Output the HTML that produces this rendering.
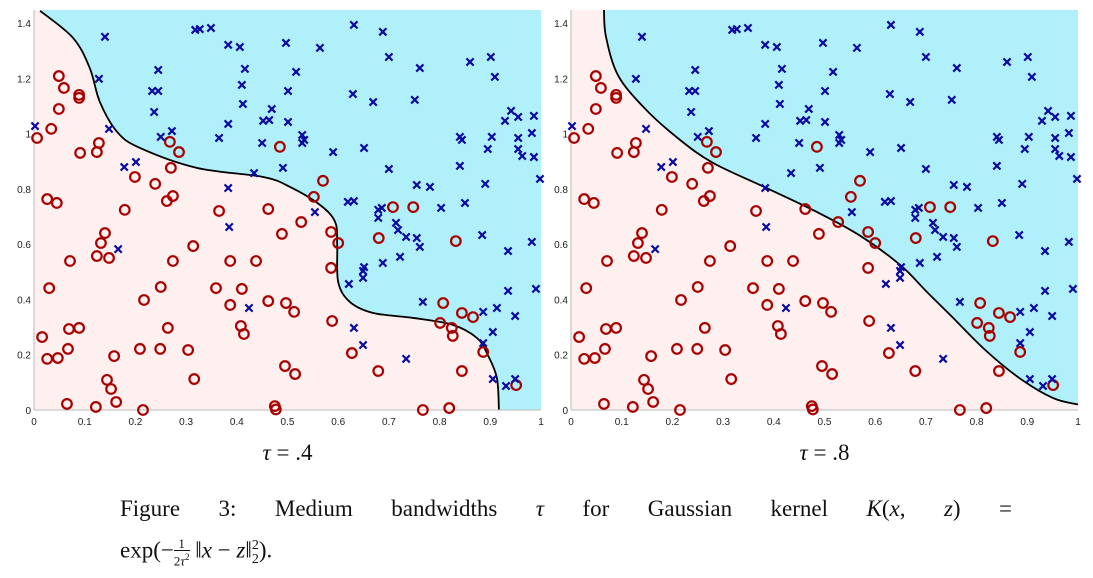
<!DOCTYPE html>
<html><head><meta charset="utf-8"><style>
body{margin:0;background:#fff;width:1093px;height:568px;overflow:hidden}
svg{display:block}
.tk{font-family:"Liberation Sans",sans-serif;font-size:10px;fill:#222}
.cap{font-family:"Liberation Serif",serif;font-size:23px;fill:#111}
</style></head><body>
<svg id="chart" width="1093" height="568"></svg>
<script>
const crossX=[.140,.318,.327,.349,.383,.406,.497,.245,.416,.128,.233,.245,.410,.501,.412,.237,.469,.452,.464,.501,.002,.148,.272,.250,.383,.365,.450,.491,.434,.178,.201,.383,.631,.688,.564,.700,.761,.860,.901,.909,.517,.629,.669,.751,.941,.929,.955,.986,.529,.533,.529,.590,.651,.840,.844,.903,.895,.955,.982,.955,.963,.986,.700,.840,.998,.755,.781,.890,.850,.803,.619,.631,.679,.686,.554,.385,.166,.424,.679,.714,.718,.734,.755,.761,.884,.935,.982,.722,.688,.651,.649,.649,.621,.935,.990,.767,.886,.913,.949,.631,.905,.649,.886,.734,.905,.949,.931];
const crossY=[1.350,1.375,1.378,1.382,1.321,1.313,1.328,1.230,1.234,1.198,1.154,1.154,1.176,1.154,1.107,1.078,1.089,1.046,1.049,1.042,1.027,1.017,1.009,.988,1.035,.984,.966,.876,.857,.879,.897,.803,1.393,1.368,1.310,1.277,1.237,1.259,1.277,1.205,1.223,1.143,1.114,1.122,1.082,1.046,1.060,1.064,.995,.977,.966,.933,.948,.988,.977,.988,.944,.984,1.002,.944,.919,.915,.872,.883,.836,.814,.807,.818,.749,.731,.753,.756,.724,.731,.716,.662,.582,.369,.695,.677,.651,.626,.622,.590,.633,.575,.608,.554,.532,.517,.503,.478,.456,.431,.438,.391,.355,.369,.340,.297,.282,.235,.242,.185,.112,.112,.087];
const circX=[.049,.059,.089,.089,.049,.034,.006,.128,.124,.091,.268,.286,.485,.270,.199,.239,.274,.262,.026,.045,.179,.365,.462,.570,.552,.708,.748,.140,.132,.124,.148,.071,.314,.274,.387,.438,.489,.030,.250,.217,.359,.410,.387,.462,.497,.016,.069,.089,.264,.408,.414,.026,.047,.067,.158,.209,.249,.304,.495,.144,.152,.316,.065,.122,.162,.215,.475,.477,.527,.586,.600,.680,.832,.586,.513,.588,.807,.844,.866,.801,.824,.826,.886,.627,.515,.679,.844,.951,.767,.819];
const circY=[1.208,1.165,1.140,1.129,1.089,1.017,.984,.966,.933,.930,.970,.933,.952,.876,.843,.818,.774,.756,.763,.749,.724,.720,.727,.829,.771,.734,.734,.640,.604,.557,.550,.539,.593,.539,.539,.539,.637,.441,.445,.398,.441,.438,.380,.394,.387,.264,.293,.297,.297,.304,.275,.185,.188,.221,.195,.221,.221,.217,.159,.109,.076,.112,.022,.011,.029,.000,.014,.002,.680,.644,.604,.622,.611,.514,.355,.322,.387,.351,.336,.315,.297,.268,.210,.206,.130,.141,.141,.090,.000,.007];
const bndAX=[.012,.077,.110,.130,.164,.209,.321,.452,.505,.564,.594,.598,.600,.623,.669,.748,.826,.874,.895,.913,.917];
const bndAY=[1.444,1.346,1.237,1.114,1.006,.948,.876,.843,.807,.742,.680,.597,.463,.391,.351,.333,.308,.260,.199,.116,0];
const bndBX=[.065,.069,.093,.146,.213,.280,.381,.481,.568,.649,.702,.750,.817,.884,.951,1.0];
const bndBY=[1.447,1.35,1.21,1.09,.98,.894,.807,.720,.633,.525,.427,.340,.217,.116,.043,.02];
const xTicks=[0,.1,.2,.3,.4,.5,.6,.7,.8,.9,1];
const xTickLabels=["0","0.1","0.2","0.3","0.4","0.5","0.6","0.7","0.8","0.9","1"];
const yTicks=[0,.2,.4,.6,.8,1,1.2,1.4];
const yTickLabels=["0","0.2","0.4","0.6","0.8","1","1.2","1.4"];
const YMAX=1.447;
const NS="http://www.w3.org/2000/svg";
const svg=document.getElementById('chart');
function mk(tag,attrs,parent){const e=document.createElementNS(NS,tag);for(const k in attrs)e.setAttribute(k,attrs[k]);(parent||svg).appendChild(e);return e;}
function smooth(P){let d=`M${P[0][0]},${P[0][1]}`;
  for(let i=0;i<P.length-1;i++){const p0=P[Math.max(0,i-1)],p1=P[i],p2=P[i+1],p3=P[Math.min(P.length-1,i+2)];
    const c1=[p1[0]+(p2[0]-p0[0])/6,p1[1]+(p2[1]-p0[1])/6],c2=[p2[0]-(p3[0]-p1[0])/6,p2[1]-(p3[1]-p1[1])/6];
    d+=`C${c1[0]},${c1[1]} ${c2[0]},${c2[1]} ${p2[0]},${p2[1]}`;}
  return d;}
function panel(x0,bx,by,name,title){
  const W=507,Y0=410,H=400;
  const sx=v=>x0+v*W, sy=v=>Y0-v/YMAX*H;
  const g=mk('g',{});
  
  
  const bg=mk('rect',{x:x0,y:10,width:W,height:H,fill:'#fff0f0'},g);
  
  
  const P=bx.map((v,i)=>[sx(v),sy(by[i])]);
  const curve=smooth(P);
  const cd=curve+`L${sx(1)},${sy(by[by.length-1])}L${sx(1)},${sy(YMAX)}L${sx(bx[0])},${sy(YMAX)}Z`;
  const cy=mk('path',{d:cd,fill:'#b0f0fa'},g);
  
  
  const bl=mk('path',{d:curve,fill:'none',stroke:'#000','stroke-width':1.8},g);
  
  
  mk('line',{x1:x0,y1:10,x2:x0,y2:Y0,stroke:'#bbb','stroke-width':1},g);
  mk('line',{x1:x0,y1:Y0,x2:x0+W,y2:Y0,stroke:'#bbb','stroke-width':1},g);
  xTicks.forEach((v,i)=>{const t=mk('text',{x:sx(v),y:425,'text-anchor':'middle',class:'tk'},g);t.textContent=xTickLabels[i];
    
    });
  yTicks.forEach((v,i)=>{const t=mk('text',{x:x0-3,y:sy(v)+4,'text-anchor':'end',class:'tk'},g);t.textContent=yTickLabels[i];
    
    });
  circX.forEach((v,i)=>{const c=mk('circle',{cx:sx(v),cy:sy(circY[i]),r:4.8,fill:'none',stroke:'#a80000','stroke-width':2.2},g);
    
    });
  crossX.forEach((v,i)=>{const x=sx(v),y=sy(crossY[i]),d=3.6;
    const p=mk('path',{d:`M${x-d},${y-d}L${x+d},${y+d}M${x-d},${y+d}L${x+d},${y-d}`,stroke:'#0a0aa0','stroke-width':2.2},g);
    
    });
  const t=mk('text',{x:x0+W/2,y:460,'text-anchor':'middle',class:'cap'},g);
  t.innerHTML='<tspan font-style="italic">τ</tspan> = .'+title;
  
  
}
panel(34,bndAX,bndAY,'panel-tau-04','4');
panel(571,bndBX,bndBY,'panel-tau-08','8');
</script>
<div style="position:absolute;left:120px;top:490px;width:892px;font-family:'Liberation Serif',serif;font-size:23px;color:#111;line-height:37px">
<div style="text-align:justify;text-align-last:justify">Figure 3: Medium bandwidths <i>τ</i> for Gaussian kernel <i>K</i>(<i>x</i>, <i>z</i>) =</div>
<div>exp(−<span style="display:inline-block;vertical-align:middle;font-size:13px;text-align:center;line-height:12px"><span style="display:block;border-bottom:1px solid #111">1</span><span style="display:block">2<i>τ</i><sup style="font-size:9px">2</sup></span></span> ‖<i>x</i> − <i>z</i>‖<sup style="font-size:14px">2</sup><sub style="font-size:14px;margin-left:-7px">2</sub>).</div>
</div>
</body></html>
